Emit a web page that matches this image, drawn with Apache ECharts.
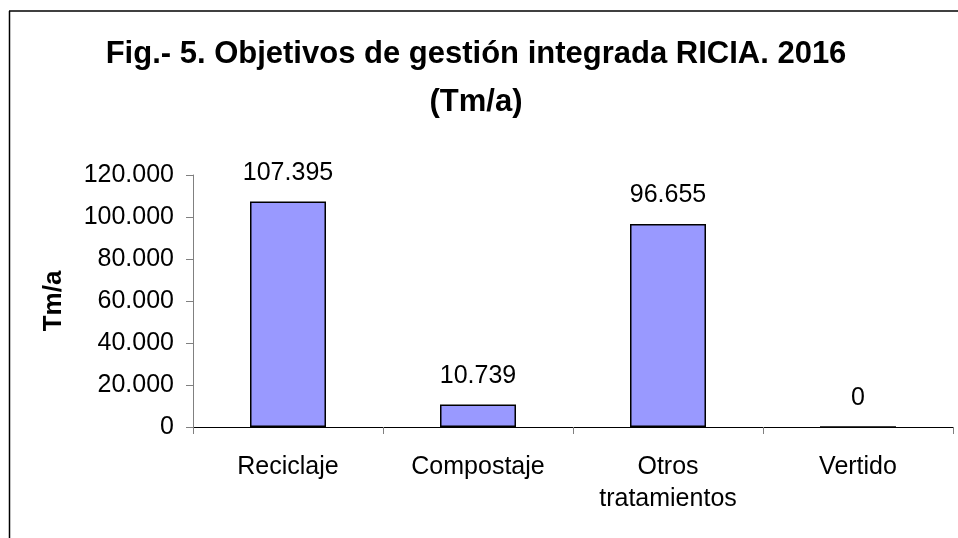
<!DOCTYPE html>
<html>
<head>
<meta charset="utf-8">
<script src="https://cdn.jsdelivr.net/npm/echarts@6/dist/echarts.min.js"></script>
<style>
  html, body { margin: 0; padding: 0; background: #fff; }
  #main { width: 958px; height: 538px; }
</style>
</head>
<body>
<div id="main"></div>
<script>
// datos
var categorias = ['Reciclaje', 'Compostaje', 'Otros\ntratamientos', 'Vertido'];
var valores = [107395, 10739, 96655, 0];
var ticksY = [0, 20000, 40000, 60000, 80000, 100000, 120000];

function miles(v) {
  return String(v).replace(/\B(?=(\d{3})+(?!\d))/g, '.');
}

var chart = echarts.init(document.getElementById('main'));
var fuente = '"Liberation Sans", Arial, sans-serif';

chart.setOption({
  backgroundColor: '#fff',
  animation: false,
  title: {
    text: 'Fig.- 5. Objetivos de gestión integrada RICIA. 2016\n(Tm/a)',
    left: 471,
    textAlign: 'center',
    top: 25,
    textStyle: {
      fontFamily: fuente,
      fontSize: 31,
      fontWeight: 'bold',
      color: '#000',
      lineHeight: 48
    }
  },
  // marco del gráfico (recortado)
  graphic: [
    { type: 'line', shape: { x1: 9, y1: 11, x2: 958, y2: 11 }, style: { stroke: '#000', lineWidth: 1.5 } },
    { type: 'line', shape: { x1: 9.5, y1: 11, x2: 9.5, y2: 538 }, style: { stroke: '#000', lineWidth: 1.5 } }
  ],
  grid: { left: 193, right: 5, top: 175, bottom: 111 },
  xAxis: {
    type: 'category',
    data: categorias,
    axisLine: { lineStyle: { color: '#000', width: 1 } },
    axisTick: { show: true, inside: false, length: 7, lineStyle: { color: '#808080' } },
    axisLabel: {
      margin: 24,
      fontFamily: fuente,
      fontSize: 25,
      color: '#000',
      lineHeight: 32
    }
  },
  yAxis: {
    type: 'value',
    min: ticksY[0],
    max: ticksY[ticksY.length - 1],
    interval: ticksY[1] - ticksY[0],
    name: 'Tm/a',
    nameLocation: 'middle',
    nameGap: 126,
    nameRotate: 90,
    nameTextStyle: { fontFamily: fuente, fontSize: 26, fontWeight: 'bold', color: '#000' },
    axisLine: { show: true, lineStyle: { color: '#808080', width: 1 } },
    axisTick: { show: true, length: 7, lineStyle: { color: '#808080' } },
    splitLine: { show: false },
    axisLabel: {
      margin: 19,
      fontFamily: fuente,
      fontSize: 25,
      color: '#000',
      formatter: miles
    }
  },
  series: [{
    type: 'bar',
    data: valores,
    barWidth: '40%',
    itemStyle: { color: '#9999FF', borderColor: '#000', borderWidth: 1.5 },
    label: {
      show: true,
      position: 'top',
      distance: 16,
      fontFamily: fuente,
      fontSize: 25,
      color: '#000',
      formatter: function (p) { return miles(p.value); }
    }
  }]
});
</script>
</body>
</html>
